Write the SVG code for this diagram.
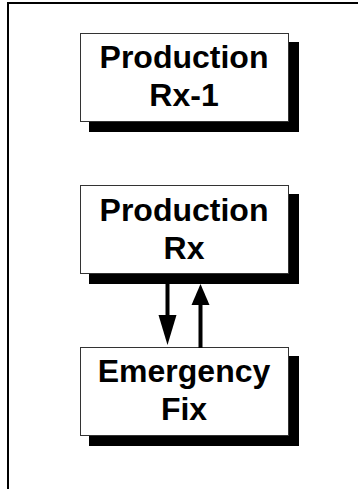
<svg xmlns="http://www.w3.org/2000/svg" width="358" height="489" viewBox="0 0 358 489">
<style>
.shadow{fill:#000}
.box{fill:#fff;stroke:#333;stroke-width:1}
.lbl{font-family:"Liberation Sans",Arial,sans-serif;font-weight:bold;font-size:32px;fill:#000;text-anchor:middle}
.conn{stroke:#000;stroke-width:4;fill:none}
</style>
<rect x="0" y="0" width="358" height="489" fill="#fff"/>
<path d="M8 489 V3 H358" fill="none" stroke="#000" stroke-width="2"/>
<g id="node-rx1">
<rect class="shadow" x="89" y="42" width="210" height="90"/>
<rect class="box" x="80.5" y="33.5" width="208" height="88"/>
<text class="lbl" x="184" y="68">Production</text>
<text class="lbl" x="184" y="106">Rx-1</text>
</g>
<g id="node-rx">
<rect class="shadow" x="89" y="194" width="210" height="90"/>
<rect class="box" x="80.5" y="185.5" width="208" height="88"/>
<text class="lbl" x="184" y="221">Production</text>
<text class="lbl" x="184" y="259">Rx</text>
</g>
<g id="node-fix">
<rect class="shadow" x="89" y="356" width="210" height="90"/>
<rect class="box" x="80.5" y="347.5" width="208" height="88"/>
<text class="lbl" x="184" y="382">Emergency</text>
<text class="lbl" x="184" y="420">Fix</text>
</g>
<g id="connectors">
<line class="conn" x1="167.5" y1="284" x2="167.5" y2="316"/>
<polygon points="158.5,315 176.5,315 167.5,345" fill="#000"/>
<line class="conn" x1="200.5" y1="304" x2="200.5" y2="348"/>
<polygon points="191.5,305 209.5,305 200.5,284" fill="#000"/>
</g>
</svg>
